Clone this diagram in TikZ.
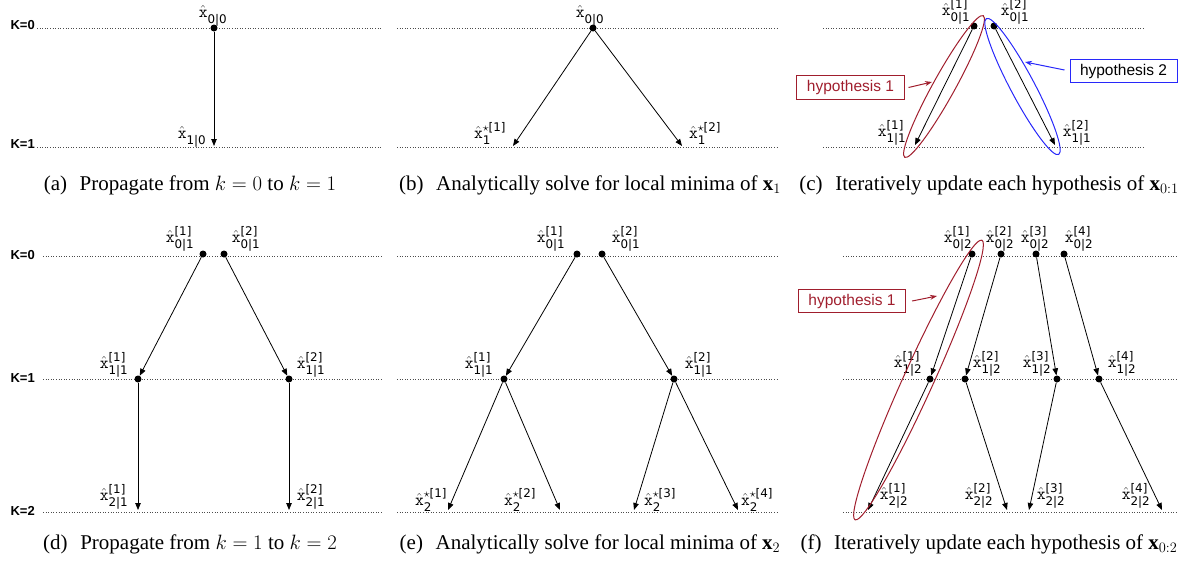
\documentclass[tikz,border=0pt]{standalone}
\usepackage{amsmath}
\usepackage{fontspec}
\setmainfont{Liberation Serif}
\newfontfamily\lblfont{DejaVu Sans}
\newfontfamily\hyfont{Liberation Sans}
\usetikzlibrary{arrows.meta,shapes.geometric}
\definecolor{hred}{RGB}{160,30,45}
\definecolor{hblue}{RGB}{40,40,250}
\newcommand{\xh}[2]{$\hat{\mathtt{x}}^{\text{\lblfont#2}}_{\text{\lblfont#1}}$}
\newcommand{\xs}[2]{$\hat{\mathtt{x}}^{\star\text{\lblfont#2}}_{\text{\lblfont#1}}$}
\begin{document}
\begin{tikzpicture}[x=1pt,y=-1pt,
  dot/.style={circle,fill=black,inner sep=0pt,minimum size=7pt},
  klbl/.style={font=\hyfont\bfseries\fontsize{13}{15}\selectfont,anchor=base east,inner sep=0pt},
  lvl/.style={dotted,black!70,line width=0.6pt},
  arr/.style={-{Triangle[length=7pt,width=5.5pt]},line width=0.8pt},
  lab/.style={font=\fontsize{17}{20}\selectfont,inner sep=0pt},
  captxt/.style={font=\fontsize{21}{24}\selectfont,anchor=base,inner sep=0pt},
  hbox/.style={draw,line width=1pt,inner xsep=10pt,inner ysep=4.5pt,font=\hyfont\fontsize{15.5}{18}\selectfont},
  hell/.style={ellipse,draw,line width=1pt,inner sep=0pt},
  harr/.style={-{Stealth[length=7pt,width=5pt]},line width=1pt}]
\useasboundingbox (0,0) rectangle (1190,565);

% ---------- level lines row 1 ----------
\coordinate (a0l) at (37,28);  \coordinate (a0r) at (382,28);
\coordinate (a1l) at (37,147); \coordinate (a1r) at (382,147);
\coordinate (b0l) at (397,28);  \coordinate (b0r) at (778,28);
\coordinate (b1l) at (397,147); \coordinate (b1r) at (778,147);
\coordinate (c0l) at (823,28);  \coordinate (c0r) at (1143,28);
\coordinate (c1l) at (823,147); \coordinate (c1r) at (1143,147);
\draw[lvl] (a0l) -- (a0r); \draw[lvl] (a1l) -- (a1r);
\draw[lvl] (b0l) -- (b0r); \draw[lvl] (b1l) -- (b1r);
\draw[lvl] (c0l) -- (c0r); \draw[lvl] (c1l) -- (c1r);
\node[klbl] (kA0) at (35,29) {K=0};
\node[klbl] (kA1) at (35,148) {K=1};

% ---------- level lines row 2 ----------
\coordinate (d0l) at (43,256); \coordinate (d0r) at (383,256);
\coordinate (d1l) at (43,379); \coordinate (d1r) at (383,379);
\coordinate (d2l) at (43,512); \coordinate (d2r) at (383,512);
\coordinate (e0l) at (397,256); \coordinate (e0r) at (778,256);
\coordinate (e1l) at (397,379); \coordinate (e1r) at (778,379);
\coordinate (e2l) at (397,512); \coordinate (e2r) at (778,512);
\coordinate (f0l) at (843,256); \coordinate (f0r) at (1177,256);
\coordinate (f1l) at (843,379); \coordinate (f1r) at (1177,379);
\coordinate (f2l) at (843,512); \coordinate (f2r) at (1177,512);
\foreach \p in {d,e,f}{\foreach \k in {0,1,2}{\draw[lvl] (\p\k l) -- (\p\k r);}}
\node[klbl] (kD0) at (35,259) {K=0};
\node[klbl] (kD1) at (35,382) {K=1};
\node[klbl] (kD2) at (35,515) {K=2};

% ---------- (a) ----------
\node[dot] (a00) at (214,28) {};
\coordinate (a10) at (214,146);
\draw[arr] (a00) -- (a10);
\node[lab] (la00) at (213,16) {\xh{0|0}{}};
\node[lab] (la10) at (192,137) {\xh{1|0}{}};
\node[captxt] (capa) at (190,190) {(a)\hspace{0.35em} Propagate from $k=0$ to $k=1$};

% ---------- (b) ----------
\node[dot] (b00) at (593,28) {};
\coordinate (b1a) at (513,146);
\coordinate (b1b) at (682,146);
\draw[arr] (b00) -- (b1a);
\draw[arr] (b00) -- (b1b);
\node[lab] (lb00) at (590,16) {\xh{0|0}{}};
\node[lab] (lb1a) at (490,133) {\xs{1}{[1]}};
\node[lab] (lb1b) at (705,133) {\xs{1}{[2]}};
\node[captxt] (capb) at (590,190) {(b)\hspace{0.35em} Analytically solve for local minima of $\mathbf{x}_1$};

% ---------- (c) ----------
\node[dot] (c0a) at (974,26) {};
\node[dot] (c0b) at (994,26) {};
\coordinate (c1a) at (915,145);
\coordinate (c1b) at (1055,145);
\draw[arr] (c0a) -- (c1a);
\draw[arr] (c0b) -- (c1b);
\node[lab] (lc0a) at (956,12) {\xh{0|1}{[1]}};
\node[lab] (lc0b) at (1015,12) {\xh{0|1}{[2]}};
\node[lab] (lc1a) at (892,133) {\xh{1|1}{[1]}};
\node[lab] (lc1b) at (1077,133) {\xh{1|1}{[2]}};
\node[hell,draw=hred,rotate=61,minimum width=162pt,minimum height=22pt] (ell1) at (944,86.5) {};
\node[hell,draw=hblue,rotate=-62,minimum width=154pt,minimum height=24pt] (ell2) at (1022.5,86.5) {};
\node[hbox,draw=hred,text=hred] (h1) at (850.5,87.5) {hypothesis 1};
\node[hbox,draw=hblue] (h2) at (1123.5,71) {hypothesis 2};
\coordinate (t1) at (932,82);
\coordinate (t2) at (1025,62);
\draw[harr,hred] (h1.east) ++(4,0) -- (t1);
\draw[harr,hblue] (h2.west) ++(-5,-1) -- (t2);
\node[captxt] (capc) at (989,190) {(c)\hspace{0.35em} Iteratively update each hypothesis of $\mathbf{x}_{0:1}$};

% ---------- (d) ----------
\node[dot] (d0a) at (203,254) {};
\node[dot] (d0b) at (224,254) {};
\node[dot] (d1a) at (138,379) {};
\node[dot] (d1b) at (289,379) {};
\coordinate (d2a) at (138,510);
\coordinate (d2b) at (289,510);
\draw[arr] (d0a) -- (d1a);
\draw[arr] (d0b) -- (d1b);
\draw[arr] (d1a) -- (d2a);
\draw[arr] (d1b) -- (d2b);
\node[lab] (ld0a) at (180,239) {\xh{0|1}{[1]}};
\node[lab] (ld0b) at (246,239) {\xh{0|1}{[2]}};
\node[lab] (ld1a) at (114,365) {\xh{1|1}{[1]}};
\node[lab] (ld1b) at (311,365) {\xh{1|1}{[2]}};
\node[lab] (ld2a) at (114,497) {\xh{2|1}{[1]}};
\node[lab] (ld2b) at (311,497) {\xh{2|1}{[2]}};
\node[captxt] (capd) at (190,549) {(d)\hspace{0.35em} Propagate from $k=1$ to $k=2$};

% ---------- (e) ----------
\node[dot] (e0a) at (577,254) {};
\node[dot] (e0b) at (602,254) {};
\node[dot] (e1a) at (504,379) {};
\node[dot] (e1b) at (674,379) {};
\coordinate (e2a) at (448,510);
\coordinate (e2b) at (560,510);
\coordinate (e2c) at (634,510);
\coordinate (e2d) at (738,510);
\draw[arr] (e0a) -- (e1a);
\draw[arr] (e0b) -- (e1b);
\draw[arr] (e1a) -- (e2a);
\draw[arr] (e1a) -- (e2b);
\draw[arr] (e1b) -- (e2c);
\draw[arr] (e1b) -- (e2d);
\node[lab] (le0a) at (551,239) {\xh{0|1}{[1]}};
\node[lab] (le0b) at (626,239) {\xh{0|1}{[2]}};
\node[lab] (le1a) at (479,365) {\xh{1|1}{[1]}};
\node[lab] (le1b) at (699,365) {\xh{1|1}{[2]}};
\node[lab] (le2a) at (431,500) {\xs{2}{[1]}};
\node[lab] (le2b) at (520,500) {\xs{2}{[2]}};
\node[lab] (le2c) at (660,500) {\xs{2}{[3]}};
\node[lab] (le2d) at (757,500) {\xs{2}{[4]}};
\node[captxt] (cape) at (590,549) {(e)\hspace{0.35em} Analytically solve for local minima of $\mathbf{x}_2$};

% ---------- (f) ----------
\node[dot] (f0a) at (972,254) {};
\node[dot] (f0b) at (1001,254) {};
\node[dot] (f0c) at (1036,254) {};
\node[dot] (f0d) at (1064,254) {};
\node[dot] (f1a) at (930,379) {};
\node[dot] (f1b) at (965,379) {};
\node[dot] (f1c) at (1057,379) {};
\node[dot] (f1d) at (1099,379) {};
\coordinate (f2a) at (868,510);
\coordinate (f2b) at (1007,510);
\coordinate (f2c) at (1029,510);
\coordinate (f2d) at (1162,510);
\draw[arr] (f0a) -- (f1a);
\draw[arr] (f0b) -- (f1b);
\draw[arr] (f0c) -- (f1c);
\draw[arr] (f0d) -- (f1d);
\draw[arr] (f1a) -- (f2a);
\draw[arr] (f1b) -- (f2b);
\draw[arr] (f1c) -- (f2c);
\draw[arr] (f1d) -- (f2d);
\node[lab] (lf0a) at (958,239) {\xh{0|2}{[1]}};
\node[lab] (lf0b) at (1000,239) {\xh{0|2}{[2]}};
\node[lab] (lf0c) at (1035,239) {\xh{0|2}{[3]}};
\node[lab] (lf0d) at (1079,239) {\xh{0|2}{[4]}};
\node[lab] (lf1a) at (908,364) {\xh{1|2}{[1]}};
\node[lab] (lf1b) at (987,364) {\xh{1|2}{[2]}};
\node[lab] (lf1c) at (1037,364) {\xh{1|2}{[3]}};
\node[lab] (lf1d) at (1122,364) {\xh{1|2}{[4]}};
\node[lab] (lf2a) at (894,496) {\xh{2|2}{[1]}};
\node[lab] (lf2b) at (979,496) {\xh{2|2}{[2]}};
\node[lab] (lf2c) at (1051,496) {\xh{2|2}{[3]}};
\node[lab] (lf2d) at (1136,496) {\xh{2|2}{[4]}};
\node[hell,draw=hred,rotate=65.6,minimum width=307pt,minimum height=30pt] (ell3) at (918.5,380) {};
\node[hbox,draw=hred,text=hred] (h3) at (852,301) {hypothesis 1};
\coordinate (t3) at (937,296);
\draw[harr,hred] (h3.east) ++(6,0) -- (t3);
\node[captxt] (capf) at (989,549) {(f)\hspace{0.35em} Iteratively update each hypothesis of $\mathbf{x}_{0:2}$};
\end{tikzpicture}
\end{document}
